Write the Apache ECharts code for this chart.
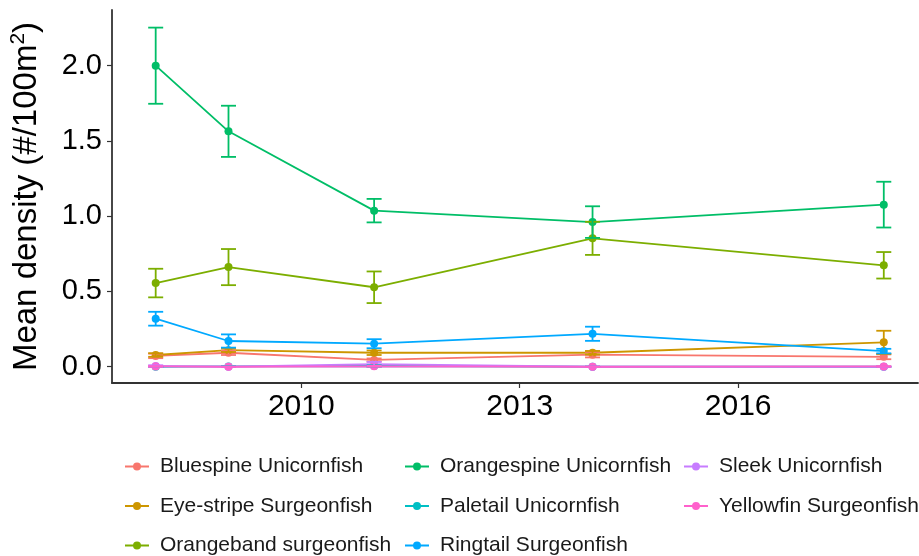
<!DOCTYPE html>
<html>
<head>
<meta charset="utf-8">
<script src="https://cdn.jsdelivr.net/npm/echarts@6/dist/echarts.min.js"></script>
<style>
  html, body { margin: 0; padding: 0; background: #fff; }
  #chart { width: 919px; height: 556px; }
</style>
</head>
<body>
<div id="chart"></div>
<script>
// survey years
const years = [2008, 2009, 2011, 2014, 2018]

// species, in legend (alphabetical) order
const species = [
  'Bluespine Unicornfish',
  'Eye-stripe Surgeonfish',
  'Orangeband surgeonfish',
  'Orangespine Unicornfish',
  'Paletail Unicornfish',
  'Ringtail Surgeonfish',
  'Sleek Unicornfish',
  'Yellowfin Surgeonfish'
]

// mean density per year
const bluespineMean = [0.072, 0.093, 0.045, 0.080, 0.066]
const eyeStripeMean = [0.078, 0.110, 0.093, 0.093, 0.162]
const orangebandMean = [0.556, 0.662, 0.528, 0.853, 0.674]
const orangespineMean = [2.000, 1.564, 1.037, 0.961, 1.077]
const paletailMean = [0.000, 0.002, 0.005, 0.000, 0.000]
const ringtailMean = [0.319, 0.171, 0.153, 0.219, 0.104]
const sleekMean = [0.005, 0.000, 0.018, 0.000, 0.000]
const yellowfinMean = [0.002, 0.000, 0.003, 0.000, 0.002]

// standard errors
const bluespineSe = [0.015, 0.015, 0.010, 0.018, 0.016]
const eyeStripeSe = [0.012, 0.012, 0.015, 0.012, 0.077]
const orangebandSe = [0.095, 0.120, 0.105, 0.110, 0.088]
const orangespineSe = [0.253, 0.170, 0.078, 0.105, 0.152]
const paletailSe = [0.000, 0.002, 0.005, 0.000, 0.000]
const ringtailSe = [0.046, 0.044, 0.030, 0.047, 0.015]
const sleekSe = [0.005, 0.000, 0.014, 0.000, 0.000]
const yellowfinSe = [0.002, 0.000, 0.003, 0.000, 0.002]

const yTicks = [0, 0.5, 1, 1.5, 2]
const xTicks = [2010, 2013, 2016]

const means = [bluespineMean, eyeStripeMean, orangebandMean, orangespineMean,
  paletailMean, ringtailMean, sleekMean, yellowfinMean]
const ses = [bluespineSe, eyeStripeSe, orangebandSe, orangespineSe,
  paletailSe, ringtailSe, sleekSe, yellowfinSe]

// ggplot default hue palette for 8 groups
const colors = ['#F8766D', '#CD9600', '#7CAE00', '#00BE67', '#00BFC4', '#00A9FF', '#C77CFF', '#FF61CC']

const FONT = 'Liberation Sans'
// line with a dot, pieces kept apart so nothing cancels out
const legendIcon = 'path://M0,3.1 L8.5,3.1 L8.5,4.9 L0,4.9 Z M15.5,3.1 L24,3.1 L24,4.9 L15.5,4.9 Z M8,4 A4,4 0 1,1 16,4 A4,4 0 1,1 8,4 Z'

const series = []
species.forEach((name, i) => {
  const color = colors[i]
  series.push({
    name: name,
    type: 'line',
    data: years.map((y, k) => [y, means[i][k]]),
    symbol: 'circle',
    symbolSize: 8,
    showSymbol: true,
    itemStyle: { color: color },
    lineStyle: { color: color, width: 1.8 },
    z: 2 + i * 0.01,
    animation: false
  })
  series.push({
    name: name,
    type: 'custom',
    data: years.map((y, k) => [y, means[i][k] - ses[i][k], means[i][k] + ses[i][k]]),
    encode: { x: 0, y: [1, 2] },
    renderItem: function (params, api) {
      const x = api.value(0)
      const top = api.coord([x, api.value(2)])
      const bot = api.coord([x, api.value(1)])
      const w = 7.5
      const style = { stroke: color, lineWidth: 1.8 }
      return {
        type: 'group',
        children: [
          { type: 'line', shape: { x1: top[0], y1: top[1], x2: bot[0], y2: bot[1] }, style: style },
          { type: 'line', shape: { x1: top[0] - w, y1: top[1], x2: top[0] + w, y2: top[1] }, style: style },
          { type: 'line', shape: { x1: bot[0] - w, y1: bot[1], x2: bot[0] + w, y2: bot[1] }, style: style }
        ]
      }
    },
    z: 3 + i * 0.01,
    animation: false
  })
})

function makeLegend(names, left) {
  return {
    orient: 'vertical',
    left: left,
    top: 456,
    height: 140,
    data: names.map(n => ({ name: n, itemStyle: { color: colors[species.indexOf(n)], borderWidth: 0 } })),
    icon: legendIcon,
    itemWidth: 24,
    itemHeight: 8,
    itemGap: 18.5,
    padding: 0,
    selectedMode: false,
    textStyle: { fontFamily: FONT, fontSize: 21, color: '#1a1a1a', padding: [0, 0, 0, 6] }
  }
}

const chart = echarts.init(document.getElementById('chart'), null, { renderer: 'canvas' })

chart.setOption({
  backgroundColor: '#fff',
  animation: false,
  grid: { left: 112, right: 1, top: 10, bottom: 173, containLabel: false },
  legend: [
    makeLegend(species.slice(0, 3), 125),
    makeLegend(species.slice(3, 6), 405),
    makeLegend(species.slice(6, 8), 684)
  ],
  xAxis: {
    type: 'value',
    min: 2007.4,
    max: 2018.47,
    splitLine: { show: false },
    axisLine: { show: true, onZero: false, lineStyle: { color: '#333', width: 1.8 } },
    axisTick: { show: true, length: 5, customValues: xTicks, lineStyle: { color: '#333', width: 1.2 } },
    axisLabel: {
      customValues: xTicks,
      formatter: v => String(v),
      margin: 9,
      fontFamily: FONT,
      fontSize: 30,
      color: '#000'
    }
  },
  yAxis: {
    type: 'value',
    min: -0.108,
    max: 2.37,
    splitLine: { show: false },
    axisLine: { show: true, onZero: false, lineStyle: { color: '#333', width: 1.8 } },
    axisTick: { show: true, length: 5, customValues: yTicks, lineStyle: { color: '#333', width: 1.2 } },
    axisLabel: {
      customValues: yTicks,
      formatter: v => v.toFixed(1),
      margin: 10,
      fontFamily: FONT,
      fontSize: 29,
      color: '#000'
    },
    name: '{a|Mean density (#/100m}{s|2}{a|)}',
    nameLocation: 'middle',
    nameGap: 67,
    nameRotate: 90,
    nameTextStyle: {
      rich: {
        a: { fontFamily: FONT, fontSize: 33, color: '#000' },
        s: { fontFamily: FONT, fontSize: 21, color: '#000', verticalAlign: 'top', padding: [0, 0, 16, 0] }
      }
    }
  },
  series: series
})
</script>
</body>
</html>
